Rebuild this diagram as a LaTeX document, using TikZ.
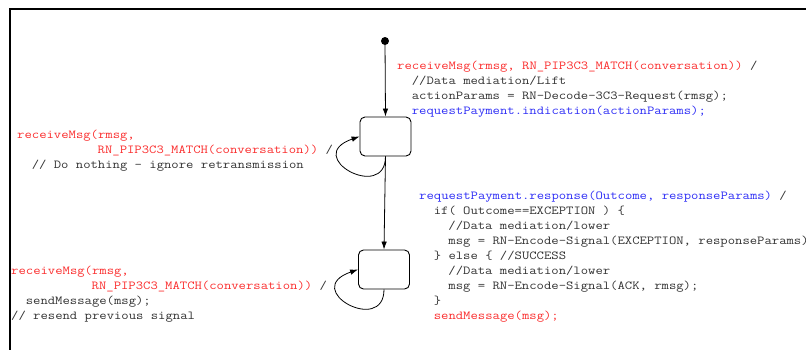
\documentclass[tikz,border=0pt]{standalone}
\usepackage{fontspec}
\setmonofont[FakeStretch=1.17]{Latin Modern Mono}
\usetikzlibrary{arrows.meta}
\definecolor{codered}{RGB}{250,45,45}
\definecolor{codeblue}{RGB}{45,45,245}
\definecolor{codegray}{RGB}{50,50,50}
\newdimen\chw \chw=7.32pt
\newcommand{\cols}[1]{\hspace*{#1\chw}}
\tikzset{state/.style={draw,rounded corners=5pt,line width=0.9pt,
                       minimum width=51pt,minimum height=39pt},
         initdot/.style={circle,fill=black,inner sep=0pt,minimum size=8pt},
         trans/.style={-{Latex[length=8pt,width=5.5pt]},line width=0.8pt},
         code/.style={anchor=north west,inner sep=0pt,align=left,
                      text=codegray,font=\fontsize{12.2}{15}\selectfont\ttfamily}}

\begin{document}
\begin{tikzpicture}[x=1pt,y=-1pt]
  \useasboundingbox (0,0) rectangle (806,349);
  \clip (0,0) rectangle (806,349);
  % frame
  \draw[line width=2pt] (10,360) |- (820,9);
  % states
  \node (init) at (385,41) [initdot]{};
  \node (idle) at (385.5,136.5) [state]{};
  \node (wait) at (384,269.5) [state]{};
  \draw[trans] (init) -- (idle.north);
  \draw[trans] (idle.south) -- (wait.north);
  \draw[trans] (idle.south) .. controls +(0,46) and +(-58,20) .. (idle.west);
  \draw[trans] (wait.south) .. controls +(0,46) and +(-58,20) .. (wait.west);
  % transition labels
  \node (lblrecv) at (397,61) [code]{%
    \textcolor{codered}{receiveMsg(rmsg, RN\_PIP3C3\_MATCH(conversation))} /\\
    \cols{2}//Data mediation/Lift\\
    \cols{2}actionParams = RN-Decode-3C3-Request(rmsg);\\
    \cols{2}\textcolor{codeblue}{requestPayment.indication(actionParams);}};
  \node (lblignore) at (17,130) [code]{%
    \textcolor{codered}{receiveMsg(rmsg,}\\
    \cols{11}\textcolor{codered}{RN\_PIP3C3\_MATCH(conversation))} /\\
    \cols{2}// Do nothing - ignore retransmission};
  \node (lblresend) at (11,266) [code]{%
    \textcolor{codered}{receiveMsg(rmsg,}\\
    \cols{11}\textcolor{codered}{RN\_PIP3C3\_MATCH(conversation))} /\\
    \cols{2}sendMessage(msg);\\
    // resend previous signal};
  \node (lblresp) at (419,191) [code]{%
    \textcolor{codeblue}{requestPayment.response(Outcome, responseParams)} /\\
    \cols{2}if( Outcome==EXCEPTION ) \{\\
    \cols{4}//Data mediation/lower\\
    \cols{4}msg = RN-Encode-Signal(EXCEPTION, responseParams);\\
    \cols{2}\} else \{ //SUCCESS\\
    \cols{4}//Data mediation/lower\\
    \cols{4}msg = RN-Encode-Signal(ACK, rmsg);\\
    \cols{2}\}\\
    \cols{2}\textcolor{codered}{sendMessage(msg);}};
\end{tikzpicture}
\end{document}
